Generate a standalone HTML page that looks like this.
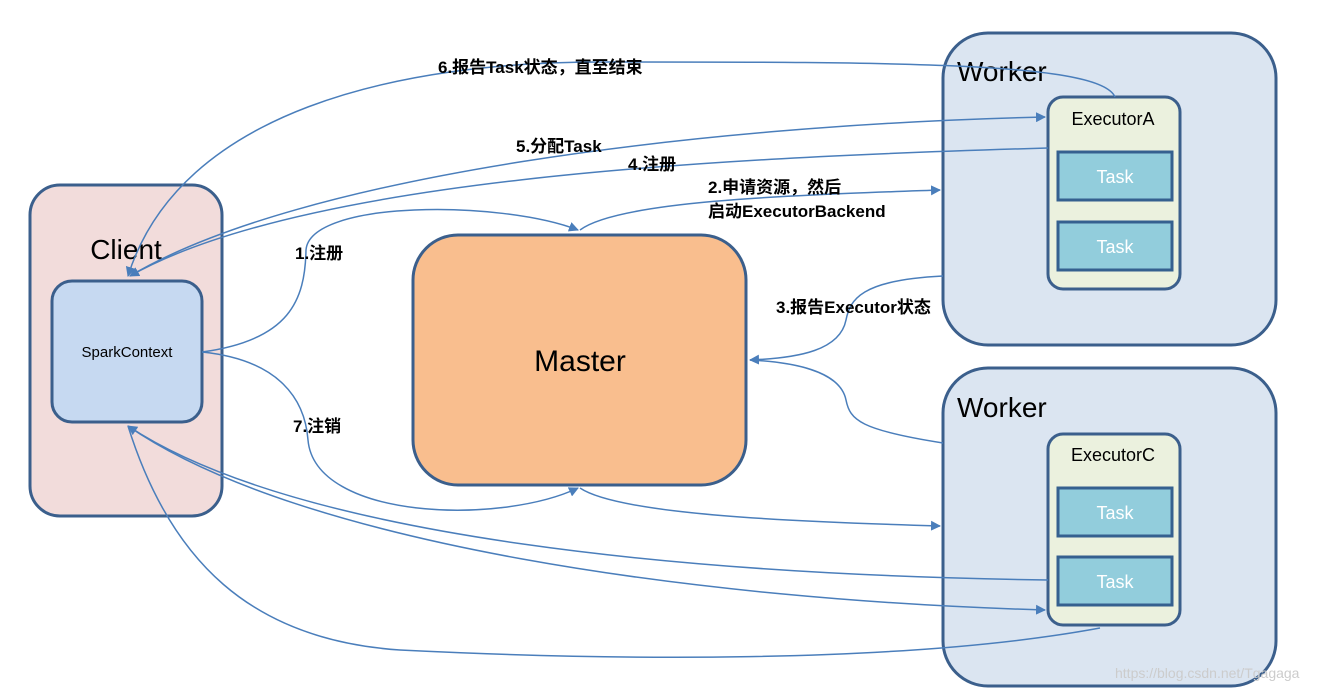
<!DOCTYPE html>
<html><head><meta charset="utf-8"><style>
body{margin:0;width:1340px;height:692px;background:#fff;overflow:hidden;font-family:"Liberation Sans","Noto Sans CJK SC",sans-serif}
</style></head><body>
<svg width="1340" height="692" xmlns="http://www.w3.org/2000/svg" font-family="Liberation Sans, Noto Sans CJK SC, sans-serif">
<defs><marker id="a" markerWidth="10" markerHeight="10" refX="9" refY="5" orient="auto" markerUnits="userSpaceOnUse"><path d="M0,0 L10,5 L0,10 z" fill="#4a7ebb"/></marker></defs>
<rect x="30" y="185" width="192" height="331" rx="30" fill="#f2dcdb" stroke="#3b5f8c" stroke-width="3"/>
<rect x="52" y="281" width="150" height="141" rx="20" fill="#c6d9f1" stroke="#3b5f8c" stroke-width="3"/>
<text x="126" y="259" font-size="28" text-anchor="middle">Client</text>
<text x="127" y="357" font-size="15" text-anchor="middle">SparkContext</text>
<rect x="413" y="235" width="333" height="250" rx="45" fill="#f9be8e" stroke="#3b5f8c" stroke-width="3"/>
<text x="580" y="371" font-size="30" text-anchor="middle">Master</text>
<rect x="943" y="33" width="333" height="312" rx="45" fill="#dbe5f1" stroke="#3b5f8c" stroke-width="3"/>
<text x="957" y="81" font-size="28">Worker</text>
<rect x="1048" y="97" width="132" height="192" rx="15" fill="#ebf1de" stroke="#3b5f8c" stroke-width="3"/>
<text x="1113" y="125" font-size="18" text-anchor="middle">ExecutorA</text>
<rect x="1058" y="152" width="114" height="48" fill="#92cddc" stroke="#35608f" stroke-width="3"/>
<text x="1115" y="183" font-size="18" fill="#fff" text-anchor="middle">Task</text>
<rect x="1058" y="222" width="114" height="48" fill="#92cddc" stroke="#35608f" stroke-width="3"/>
<text x="1115" y="253" font-size="18" fill="#fff" text-anchor="middle">Task</text>
<rect x="943" y="368" width="333" height="318" rx="45" fill="#dbe5f1" stroke="#3b5f8c" stroke-width="3"/>
<text x="957" y="417" font-size="28">Worker</text>
<rect x="1048" y="434" width="132" height="191" rx="15" fill="#ebf1de" stroke="#3b5f8c" stroke-width="3"/>
<text x="1113" y="461" font-size="18" text-anchor="middle">ExecutorC</text>
<rect x="1058" y="488" width="114" height="48" fill="#92cddc" stroke="#35608f" stroke-width="3"/>
<text x="1115" y="519" font-size="18" fill="#fff" text-anchor="middle">Task</text>
<rect x="1058" y="557" width="114" height="48" fill="#92cddc" stroke="#35608f" stroke-width="3"/>
<text x="1115" y="588" font-size="18" fill="#fff" text-anchor="middle">Task</text>
<g fill="none" stroke="#4a7ebb" stroke-width="1.5">
<path d="M202,352 C290,340 305,300 306,250 C310,200 500,200 578,230" marker-end="url(#a)"/>
<path d="M580,230 C620,200 800,195 940,190" marker-end="url(#a)"/>
<path d="M943,276 C860,280 850,300 846,320 C840,350 800,358 750,360" marker-end="url(#a)"/>
<path d="M943,443 C860,430 850,420 846,400 C840,370 790,362 750,360"/>
<path d="M202,352 C280,360 305,400 308,440 C315,520 500,525 578,488" marker-end="url(#a)"/>
<path d="M580,488 C620,515 800,522 940,526" marker-end="url(#a)"/>
<path d="M1048,148 C700,158 300,180 130,276" marker-end="url(#a)"/>
<path d="M130,276 C300,175 700,125 1045,117" marker-end="url(#a)"/>
<path d="M1115,97 C1100,62 900,62 600,62 C400,62 180,110 128,276" marker-end="url(#a)"/>
<path d="M1048,580 C700,575 300,540 128,426" marker-end="url(#a)"/>
<path d="M128,426 C300,545 700,600 1045,610" marker-end="url(#a)"/>
<path d="M1100,628 C900,665 600,660 400,650 C250,640 170,560 128,426"/>
</g>
<g font-size="17" font-weight="bold">
<text x="438" y="73">6.报告Task状态，直至结束</text>
<text x="516" y="152">5.分配Task</text>
<text x="628" y="170">4.注册</text>
<text x="708" y="193">2.申请资源，然后</text>
<text x="708" y="217">启动ExecutorBackend</text>
<text x="295" y="259">1.注册</text>
<text x="776" y="313">3.报告Executor状态</text>
<text x="293" y="432">7.注销</text>
</g>
<text x="1115" y="678" font-size="14" fill="#ccc">https://blog.csdn.net/Tgagaga</text>
</svg>
</body></html>
